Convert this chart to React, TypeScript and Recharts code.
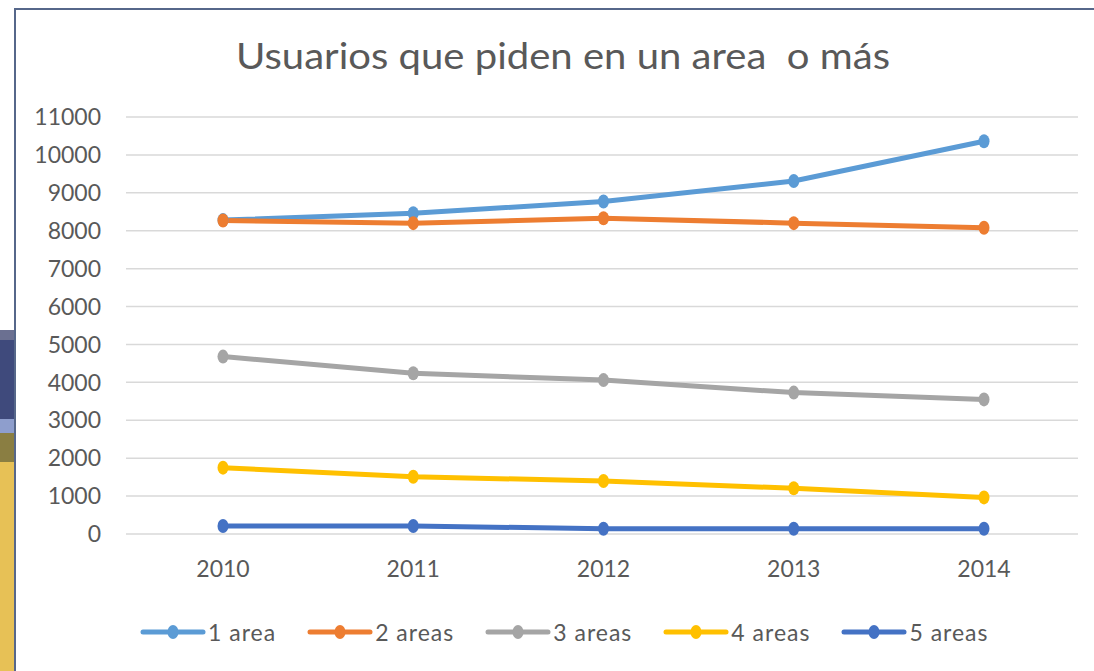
import React from 'react';
import { LineChart, Line, XAxis, YAxis, CartesianGrid } from 'recharts';

const years = ['2010', '2011', '2012', '2013', '2014'];
const area1 = [8280, 8460, 8770, 9310, 10360];
const area2 = [8270, 8200, 8330, 8200, 8080];
const area3 = [4680, 4240, 4060, 3730, 3550];
const area4 = [1750, 1510, 1400, 1205, 965];
const area5 = [210, 210, 140, 140, 140];
const yTicks = [0, 1000, 2000, 3000, 4000, 5000, 6000, 7000, 8000, 9000, 10000, 11000];
const seriesNames = ['1 area', '2 areas', '3 areas', '4 areas', '5 areas'];
const seriesKeys = ['a1', 'a2', 'a3', 'a4', 'a5'];
const seriesColors = ['#5B9BD5', '#ED7D31', '#A5A5A5', '#FFC000', '#4472C4'];
const titleText = 'Usuarios que piden en un area  o más';

const data = years.map((y, i) => ({
  year: y,
  a1: area1[i],
  a2: area2[i],
  a3: area3[i],
  a4: area4[i],
  a5: area5[i],
}));

const FONT = 'Lato, "Open Sans", sans-serif';
const TEXT = '#595959';

const makeDot = (color: string) => (props: any) => {
  const { cx, cy, index } = props;
  if (cx == null || cy == null) return <g key={index} />;
  return <ellipse key={index} cx={cx} cy={cy} rx={5.5} ry={7} fill={color} />;
};

export default function App() {
  return (
    <div
      style={{
        position: 'absolute',
        left: 0,
        top: 0,
        width: 1094,
        height: 671,
        background: '#ffffff',
        overflow: 'hidden',
        fontFamily: FONT,
      }}
    >
      {/* background strip at far left */}
      <div style={{ position: 'absolute', left: 0, top: 330, width: 14, height: 10, background: '#6b7091' }} />
      <div style={{ position: 'absolute', left: 0, top: 340, width: 14, height: 79, background: '#3f4a7c' }} />
      <div style={{ position: 'absolute', left: 0, top: 419, width: 14, height: 14, background: '#8e9ecd' }} />
      <div style={{ position: 'absolute', left: 0, top: 433, width: 14, height: 29, background: '#8a7e42' }} />
      <div style={{ position: 'absolute', left: 0, top: 462, width: 14, height: 209, background: '#e7c156' }} />
      {/* frame */}
      <div
        style={{
          position: 'absolute',
          left: 14,
          top: 8,
          width: 1080,
          height: 663,
          borderTop: '2px solid #56678a',
          borderLeft: '2px solid #56678a',
          boxSizing: 'border-box',
          background: '#ffffff',
        }}
      />
      <div style={{ position: 'absolute', left: 0, top: 0 }}>
        <LineChart
          width={1094}
          height={671}
          data={data}
          margin={{ top: 117, right: 16, bottom: 77, left: 0 }}
        >
          <CartesianGrid vertical={false} stroke="#d9d9d9" strokeWidth={1.5} />
          <XAxis
            dataKey="year"
            scale="point"
            padding={{ left: 97, right: 94 }}
            axisLine={false}
            tickLine={false}
            tickSize={0}
            tickMargin={27}
            height={60}
            tick={{ fill: TEXT, fontSize: 23, fontFamily: FONT }}
          />
          <YAxis
            domain={[0, 11000]}
            ticks={yTicks}
            interval={0}
            axisLine={false}
            tickLine={false}
            tickSize={0}
            tickMargin={25}
            width={126}
            tick={{ fill: TEXT, fontSize: 23, fontFamily: FONT }}
          />
          {seriesKeys.map((k, i) => (
            <Line
              key={k}
              dataKey={k}
              name={seriesNames[i]}
              type="linear"
              stroke={seriesColors[i]}
              strokeWidth={5}
              dot={makeDot(seriesColors[i])}
              activeDot={false}
              isAnimationActive={false}
            />
          ))}
        </LineChart>
      </div>
      {/* title */}
      <svg style={{ position: 'absolute', left: 0, top: 0 }} width={1094} height={100}>
        <text
          x={563}
          y={69}
          textAnchor="middle"
          fontSize={37}
          fontFamily={FONT}
          fill={TEXT}
          textLength={654}
          lengthAdjust="spacingAndGlyphs"
          style={{ whiteSpace: 'pre' }}
        >
          {titleText}
        </text>
      </svg>
      {/* legend */}
      <div
        style={{
          position: 'absolute',
          left: 140,
          top: 618,
          display: 'flex',
          alignItems: 'center',
          height: 28,
        }}
      >
        {seriesNames.map((n, i) => (
          <div key={n} style={{ display: 'flex', alignItems: 'center', marginRight: 31 }}>
            <svg width={66} height={20}>
              <line x1={3} y1={10} x2={63} y2={10} stroke={seriesColors[i]} strokeWidth={5} strokeLinecap="round" />
              <ellipse cx={33} cy={10} rx={5.5} ry={7} fill={seriesColors[i]} />
            </svg>
            <span style={{ marginLeft: 2, color: TEXT, fontSize: 23, lineHeight: '28px', letterSpacing: 1 }}>{n}</span>
          </div>
        ))}
      </div>
    </div>
  );
}
